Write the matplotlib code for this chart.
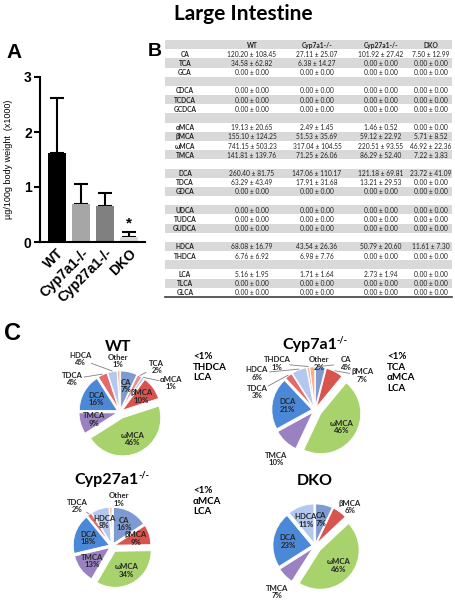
import numpy as np
import matplotlib.pyplot as plt

W, H = 456, 600
SANS = ['Lato', 'DejaVu Sans']
ARIAL = ['Liberation Sans', 'DejaVu Sans']

# panel A: total bile acids (x1000 ug/100g body weight)
groups = ['WT', 'Cyp7a1-/-', 'Cyp27a1-/-', 'DKO']
totals = [1.61, 0.69, 0.65, 0.10]
sems = [1.01, 0.36, 0.25, 0.09]
bar_colors = ['#000000', '#a6a6a6', '#808080', '#d9d9d9']

# panel B: table
row_labels = ['CA', 'TCA', 'GCA', '', 'CDCA', 'TCDCA', 'GCDCA', '',
              'αMCA', 'βMCA', 'ωMCA', 'TMCA', '', 'DCA', 'TDCA', 'GDCA', '',
              'UDCA', 'TUDCA', 'GUDCA', '', 'HDCA', 'THDCA', '', 'LCA', 'TLCA', 'GLCA']
col_heads = ['WT', 'Cyp7a1-/-', 'Cyp27a1-/-', 'DKO']
Z = '0.00 ± 0.00'
col_wt = ['120.20 ± 108.45', '34.58 ± 62.82', Z, '', Z, Z, Z, '',
          '19.13 ± 20.65', '155.10 ± 124.25', '741.15 ± 503.23', '141.81 ± 139.76', '',
          '260.40 ± 81.75', '63.29 ± 43.49', Z, '', Z, Z, Z, '',
          '68.08 ± 16.79', '6.76 ± 6.92', '', '5.16 ± 1.95', Z, Z]
col_7a1 = ['27.11 ± 25.07', '6.38 ± 14.27', Z, '', Z, Z, Z, '',
           '2.49 ± 1.45', '51.53 ± 35.69', '317.04 ± 104.55', '71.25 ± 26.06', '',
           '147.06 ± 110.17', '17.91 ± 31.68', Z, '', Z, Z, Z, '',
           '43.54 ± 26.36', '6.98 ± 7.76', '', '1.71 ± 1.64', Z, Z]
col_27a1 = ['101.92 ± 27.42', Z, Z, '', Z, Z, Z, '',
            '1.46 ± 0.52', '59.12 ± 22.92', '220.51 ± 93.55', '86.29 ± 52.40', '',
            '121.18 ± 69.81', '13.21 ± 29.53', Z, '', Z, Z, Z, '',
            '50.79 ± 20.60', Z, '', '2.73 ± 1.94', Z, Z]
col_dko = ['7.50 ± 12.99', Z, Z, '', Z, Z, Z, '',
           Z, '5.71 ± 8.52', '46.92 ± 22.36', '7.22 ± 3.83', '',
           '23.72 ± 41.09', Z, Z, '', Z, Z, Z, '',
           '11.61 ± 7.30', Z, '', Z, Z, Z]

# panel C: composition (%)
wt_names = ['CA', 'TCA', 'αMCA', 'βMCA', 'ωMCA', 'TMCA', 'DCA', 'TDCA', 'HDCA', 'Other']
wt_pct = [7, 2, 1, 10, 46, 9, 16, 4, 4, 1]
c7_names = ['CA', 'βMCA', 'ωMCA', 'TMCA', 'DCA', 'TDCA', 'HDCA', 'THDCA', 'Other']
c7_pct = [4, 7, 46, 10, 21, 3, 6, 1, 2]
c27_names = ['CA', 'βMCA', 'ωMCA', 'TMCA', 'DCA', 'TDCA', 'HDCA', 'Other']
c27_pct = [16, 9, 34, 13, 18, 2, 8, 1]
dko_names = ['CA', 'βMCA', 'ωMCA', 'TMCA', 'DCA', 'HDCA']
dko_pct = [7, 6, 46, 7, 23, 11]

slice_colors = {'CA': '#7d9bd1', 'TCA': '#e8918f', 'αMCA': '#9fc3ea', 'βMCA': '#d9534f',
                'ωMCA': '#a8d26c', 'TMCA': '#9a82c2', 'DCA': '#4c88d8', 'TDCA': '#e36b6b',
                'HDCA': '#b3c8ee', 'THDCA': '#f0b0b0', 'Other': '#f4b183'}


def box(x0, y0, x1, y1):
    # pixel box -> figure fraction rect
    return [x0 / W, 1 - y1 / H, (x1 - x0) / W, (y1 - y0) / H]


fig = plt.figure(figsize=(W / 100, H / 100), dpi=100)
fig.text(243 / W, 1 - 14 / H, 'Large Intestine', family=SANS, weight='bold',
         fontsize=15, ha='center', va='center')
fig.text(14 / W, 1 - 53 / H, 'A', family=ARIAL, weight='bold', fontsize=15, ha='center', va='center')
fig.text(155 / W, 1 - 51 / H, 'B', family=ARIAL, weight='bold', fontsize=14, ha='center', va='center')
fig.text(13 / W, 1 - 333 / H, 'C', family=ARIAL, weight='bold', fontsize=17, ha='center', va='center')

# ---- A: bars
ax = fig.add_axes(box(40, 77, 145, 242))
x = np.arange(len(groups))
ax.errorbar(x, totals, yerr=[np.zeros(len(sems)), sems], fmt='none', ecolor='black',
            elinewidth=1.5, capsize=5, capthick=1.5, zorder=1)
ax.bar(x, totals, width=0.75, color=bar_colors, zorder=2)
ax.text(3, totals[3] + sems[3] + 0.02, '*', ha='center', va='bottom', fontsize=11,
        weight='bold', family=ARIAL)
ax.set_xlim(-0.7, 3.65)
ax.set_ylim(0, 3)
ax.set_yticks([0, 1, 2, 3])
ax.set_xticks(x)
ax.set_xticklabels(groups, rotation=45, ha='right', rotation_mode='anchor')
for lab in ax.get_xticklabels() + ax.get_yticklabels():
    lab.set_family(ARIAL)
    lab.set_weight('bold')
    lab.set_fontsize(10)
ax.tick_params(axis='x', length=0, pad=3)
ax.tick_params(axis='y', length=4, width=1.5, pad=2)
for s in ['top', 'right']:
    ax.spines[s].set_visible(False)
for s in ['left', 'bottom']:
    ax.spines[s].set_linewidth(1.5)
ax.set_ylabel('µg/100g body weight  (x1000)', family=ARIAL, fontsize=6.5)
ax.yaxis.set_label_coords(-0.26, 0.5)

# ---- B: table
tb = fig.add_axes(box(165, 40, 452, 297))
nrows = len(row_labels) + 1
tb.set_xlim(165, 452)
tb.set_ylim(nrows, 0)
tb.axis('off')
for i in range(0, nrows, 2):
    tb.axhspan(i, i + 1, color='#d9d9d9', lw=0)
tb.plot([165, 452], [nrows, nrows], color='#404040', lw=1.2, clip_on=False)
col_x = [252, 317, 381, 431]
tfont = dict(family=SANS, fontsize=4.8, ha='center', va='center', color='#222222')
for cx, head in zip(col_x, col_heads):
    tb.text(cx, 0.55, head, weight='bold', **tfont)
for r, lab in enumerate(row_labels):
    y = r + 1.55
    tb.text(185, y, lab, weight='bold', **tfont)
    for cx, col in zip(col_x, [col_wt, col_7a1, col_27a1, col_dko]):
        tb.text(cx, y, col[r], **tfont)


# ---- C: pies
def draw_pie(names, pct, center, scale, title, title_pos, outside, note):
    half = 2.2
    cx, cy = center
    pa = fig.add_axes(box(cx - half * scale, cy - half * scale, cx + half * scale, cy + half * scale))
    explode = [0.17 if n == 'ωMCA' else 0.08 for n in names]
    wedges, _ = pa.pie(pct, colors=[slice_colors[n] for n in names], startangle=90,
                       counterclock=False, explode=explode,
                       wedgeprops=dict(edgecolor='white', linewidth=0.6))
    pa.set_xlim(-half, half)
    pa.set_ylim(-half, half)
    pa.set_aspect('equal')
    pa.axis('off')
    lfont = dict(family=SANS, fontsize=5.6, weight='bold', ha='center', va='center',
                 color='#262626', linespacing=1.1)
    for w, n, p in zip(wedges, names, pct):
        mid = np.deg2rad((w.theta1 + w.theta2) / 2)
        ux, uy = np.cos(mid), np.sin(mid)
        ox, oy = w.center
        txt = f'{n}\n{p}%'
        if n in outside:
            tx, ty, line = outside[n]
            pa.text(tx, ty, txt, **lfont)
            if line:
                ex, ey = ox + 1.02 * ux, oy + 1.02 * uy
                dx, dy = tx - ex, ty - ey
                d = np.hypot(dx, dy)
                stop = max(d - 0.32, 0.05) / d
                pa.plot([ex, ex + dx * stop], [ey, ey + dy * stop], color='#7f7f7f', lw=0.6)
        else:
            rr = 0.62
            pa.text(ox + rr * ux, oy + rr * uy, txt, **lfont)
    main, sup = title
    tx, ty = title_pos
    if sup:
        fig.text(tx / W, 1 - ty / H, main, family=SANS, weight='bold', fontsize=11.5,
                 ha='right', va='center')
        fig.text((tx - 0.5) / W, 1 - (ty - 5) / H, sup, family=SANS, weight='bold',
                 fontsize=6.5, ha='left', va='center')
    else:
        fig.text(tx / W, 1 - ty / H, main, family=SANS, weight='bold', fontsize=11.5,
                 ha='center', va='center')
    if note:
        fig.text(note[0] / W, 1 - note[1] / H, note[2], family=SANS, weight='bold',
                 fontsize=7, ha='left', va='top', linespacing=1.25)


draw_pie(wt_names, wt_pct, (120, 412), 38, ('WT', None), (118, 347),
         {'HDCA': (-1.05, 1.39, True), 'TDCA': (-1.26, 0.87, True), 'Other': (-0.05, 1.34, False),
          'TCA': (0.97, 1.18, True), 'αMCA': (1.34, 0.76, True)},
         (193, 352, '<1%\nTHDCA\nLCA'))
draw_pie(c7_names, c7_pct, (315, 410), 40, ('Cyp7a1', '-/-'), (337, 345),
         {'THDCA': (-0.95, 1.16, True), 'HDCA': (-1.45, 0.92, True), 'TDCA': (-1.45, 0.45, True),
          'Other': (0.1, 1.16, False), 'CA': (0.78, 1.16, True), 'βMCA': (1.18, 0.86, True),
          'TMCA': (-0.98, -1.22, False)},
         (387, 352, '<1%\nTCA\nαMCA\nLCA'))
draw_pie(c27_names, c27_pct, (112, 546), 36, ('Cyp27a1', '-/-'), (139, 480),
         {'TDCA': (-0.97, 1.11, True), 'Other': (0.19, 1.3, False)},
         (193, 486, '<1%\nαMCA\nLCA'))
draw_pie(dko_names, dko_pct, (315, 546), 39, ('DKO', None), (315, 481),
         {'βMCA': (0.9, 1.0, False), 'TMCA': (-0.97, -1.18, False)},
         None)

fig.savefig('out.png', dpi=100)
